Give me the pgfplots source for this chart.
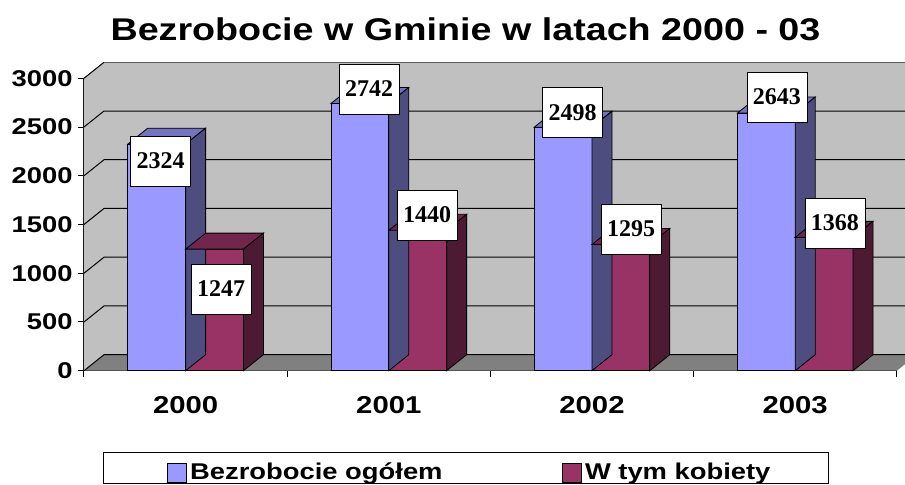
\documentclass[border=0pt]{standalone}
\usepackage{fontspec}
\setmainfont{Liberation Sans}[FakeStretch=1.2]
\newfontfamily\tnr{Liberation Serif}
\usepackage{pgfplots}
\usepackage{pgfplotstable}
\pgfplotsset{compat=1.18}
\pgfkeys{/pgf/number format/.cd,1000 sep={}}
\definecolor{blueF}{HTML}{9999FF}
\definecolor{blueT}{HTML}{7373BF}
\definecolor{blueS}{HTML}{4D4D80}
\definecolor{redF}{HTML}{993366}
\definecolor{redT}{HTML}{73264D}
\definecolor{redS}{HTML}{4D1A33}
\definecolor{wall}{HTML}{C0C0C0}
\definecolor{floorc}{HTML}{808080}

\def\yu{0.048735}
\def\bw{28.9}
\def\dX{10}
\def\dY{8}
\newcommand\prismcode[3]{%
  \pgfmathsetmacro\h{\val*\yu}%
  \pgfsetlinewidth{0.4pt}%
  \pgfsetstrokecolor{black}%
  \pgfsetfillcolor{#2}%
  \pgfpathmoveto{\pgfpoint{#1pt}{0pt}}%
  \pgfpathlineto{\pgfpoint{#1pt+\dX pt}{\dY pt}}%
  \pgfpathlineto{\pgfpoint{#1pt+\bw pt+\dX pt}{\dY pt}}%
  \pgfpathlineto{\pgfpoint{#1pt+\bw pt}{0pt}}%
  \pgfpathclose
  \pgfusepath{fill,stroke}%
  \pgfsetfillcolor{#3}%
  \pgfpathmoveto{\pgfpoint{#1pt+\bw pt}{0pt}}%
  \pgfpathlineto{\pgfpoint{#1pt+\bw pt+\dX pt}{\dY pt}}%
  \pgfpathlineto{\pgfpoint{#1pt+\bw pt+\dX pt}{\dY pt-\h pt}}%
  \pgfpathlineto{\pgfpoint{#1pt+\bw pt}{-\h pt}}%
  \pgfpathclose
  \pgfusepath{fill,stroke}%
}
\pgfdeclareplotmark{prismA}{\prismcode{-28.9}{blueT}{blueS}}
\pgfdeclareplotmark{prismB}{\prismcode{0}{redT}{redS}}

\pgfplotstableread{
x total women tdx tdy wdx wdy
0.5 2324 1247 -12.5 -8.4 17.7 -19.9
1.5 2742 1440 -9.9 7.2 19.1 7.65
2.5 2498 1295 -9.75 7.25 19.5 7.75
3.5 2643 1368 -9.15 8.0 19.85 7.2
}\data

\tikzset{lbl/.style={fill=white, draw=black, line width=0.4pt, minimum width=30pt,
  minimum height=25pt, inner sep=0pt, anchor=center, font=\tnr\bfseries\fontsize{12}{14}\selectfont}}

\begin{document}
\begin{tikzpicture}
\node[anchor=base, font=\bfseries\fontsize{15.7}{19}\selectfont] at (232.75pt,222pt) {Bezrobocie w Gminie w latach 2000 - 03};
\begin{axis}[
  at={(42pt,56.65pt)}, anchor=south west,
  x=101.6pt, y=0.048735pt,
  xmin=0, xmax=4, ymin=0, ymax=3000,
  enlargelimits=false, clip=false,
  axis lines*=left,
  axis line style={black, line width=0.5pt},
  tick align=outside, major tick length=3pt,
  every tick/.style={black, line width=0.5pt},
  xtick={0,1,2,3,4}, xticklabels={},
  extra x ticks={0.5,1.5,2.5,3.5},
  extra x tick labels={2000,2001,2002,2003},
  extra x tick style={major tick length=0pt, tick label style={anchor=base, yshift=-21.3pt, font=\bfseries\fontsize{12.2}{14}\selectfont}},
  ytick={0,500,...,3000},
  /pgf/number format/assume math mode=true,
  yticklabel style={inner sep=0pt, xshift=-2.5pt, font=\bfseries\fontsize{11.4}{13}\selectfont},
  legend columns=2,
  legend cell align=left,
  legend style={draw=none, fill=none, at={(0,0)}, anchor=west, xshift=41.5pt, yshift=-51.15pt,
     font=\bfseries\fontsize{11.4}{13}\selectfont, inner sep=0pt, nodes={inner sep=0pt}, /tikz/column sep=1.5pt},
]
% walls and floor
\fill[wall] ([shift={(\dX pt,\dY pt)}]axis cs:0,0) rectangle ([shift={(\dX pt,\dY pt)}]axis cs:4,3000);
\fill[wall] (axis cs:0,0) -- (axis cs:0,3000) -- ([shift={(\dX pt,\dY pt)}]axis cs:0,3000) -- ([shift={(\dX pt,\dY pt)}]axis cs:0,0) -- cycle;
\fill[floorc] (axis cs:0,0) -- (axis cs:4,0) -- ([shift={(\dX pt,\dY pt)}]axis cs:4,0) -- ([shift={(\dX pt,\dY pt)}]axis cs:0,0) -- cycle;
\pgfplotsinvokeforeach{0,500,1000,1500,2000,2500}{
  \draw[line width=0.5pt] (axis cs:0,#1) -- ([shift={(\dX pt,\dY pt)}]axis cs:0,#1) -- ([shift={(\dX pt,\dY pt)}]axis cs:4,#1);
}
\draw[line width=0.5pt] (axis cs:0,3000) -- ([shift={(\dX pt,\dY pt)}]axis cs:0,3000);
\draw[line width=0.6pt, black!65] ([shift={(\dX pt,\dY pt)}]axis cs:0,3000) -- ([shift={(\dX pt,\dY pt)}]axis cs:4,3000);
% series 1
\addplot[forget plot, scatter, only marks, mark=prismA,
  visualization depends on={\thisrow{total} \as \val}] table[x=x,y=total]{\data};
\addplot[ybar, bar width=28.9pt, bar shift=-14.45pt, fill=blueF, draw=black, line width=0.4pt,
  legend image code/.code={\draw[fill=blueF, draw=black, line width=0.4pt] (0pt,-4.75pt) rectangle (9.5pt,4.75pt);},
  nodes near coords,
  visualization depends on={\thisrow{tdx} \as \ldx},
  visualization depends on={\thisrow{tdy} \as \ldy},
  every node near coord/.append style={lbl, xshift=\ldx pt, yshift=\ldy pt}]
  table[x=x,y=total]{\data};
\addlegendentry{\makebox[184.5pt][l]{Bezrobocie ogółem}}
% series 2
\addplot[forget plot, scatter, only marks, mark=prismB,
  visualization depends on={\thisrow{women} \as \val}] table[x=x,y=women]{\data};
\addplot[ybar, bar width=28.9pt, bar shift=14.45pt, fill=redF, draw=black, line width=0.4pt,
  legend image code/.code={\draw[fill=redF, draw=black, line width=0.4pt] (0pt,-4.75pt) rectangle (9.5pt,4.75pt);},
  nodes near coords,
  visualization depends on={\thisrow{wdx} \as \ldx},
  visualization depends on={\thisrow{wdy} \as \ldy},
  every node near coord/.append style={lbl, xshift=\ldx pt, yshift=\ldy pt}]
  table[x=x,y=women]{\data};
\addlegendentry{W tym kobiety}
\end{axis}
\draw[line width=0.5pt] (51.5pt,0.4pt) rectangle (414pt,16pt);
\pgfresetboundingbox
\path[use as bounding box] (0,0) rectangle (452.5pt,242pt);
\end{tikzpicture}
\end{document}
